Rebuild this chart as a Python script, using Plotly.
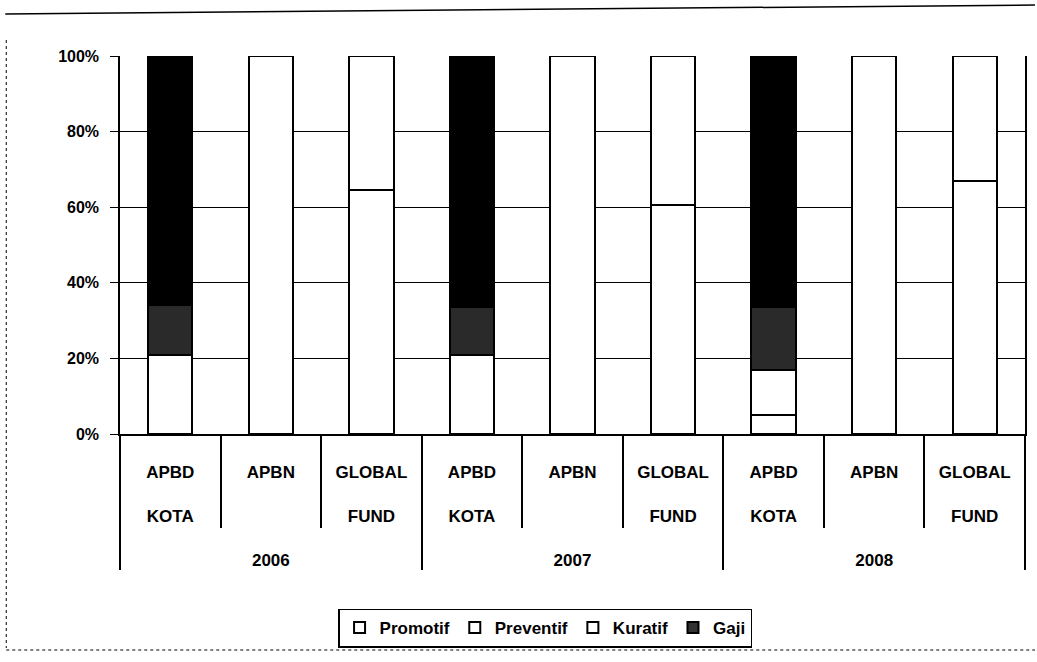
import plotly.graph_objects as go

years = ["2006", "2006", "2006", "2007", "2007", "2007", "2008", "2008", "2008"]
sources = ["APBD<br><br>KOTA", "APBN", "GLOBAL<br><br>FUND"] * 3

promotif = [21, None, 64.5, 21, None, 60.5, 5, None, 67]
preventif = [None, 100, 35.5, None, 100, 39.5, 12, 100, 33]
kuratif = [13, None, None, 12.5, None, None, 16.5, None, None]
gaji = [66, None, None, 66.5, None, None, 66.5, None, None]

y_ticks = [0, 20, 40, 60, 80, 100]
y_tick_text = ["0%", "20%", "40%", "60%", "80%", "100%"]

series = [
    ("Promotif", promotif, "white"),
    ("Preventif", preventif, "white"),
    ("Kuratif", kuratif, "#2a2a2a"),
    ("Gaji", gaji, "black"),
]
legend_fill = {"Promotif": "white", "Preventif": "white", "Kuratif": "white", "Gaji": "#333333"}

FONT = "Liberation Sans, Arial, sans-serif"

# year labels pushed down (two-level category axis)
year_labels = ["<br><br>" + y for y in years]

fig = go.Figure()
for name, vals, col in series:
    fig.add_trace(go.Bar(
        x=[year_labels, sources], y=vals, name=name, showlegend=False,
        marker=dict(color=col, line=dict(color="black", width=2)),
    ))
for name, _, _ in series:
    fig.add_trace(go.Scatter(
        x=[[None], [None]], y=[None], mode="markers", name=name,
        marker=dict(symbol="square", size=11, color=legend_fill[name],
                    line=dict(color="black", width=2)),
    ))

L, R, T, B = 120, 10, 56, 228
W, H = 1037, 662
pw, ph = W - L - R, H - T - B


def px(x):
    return (x - L) / pw


def py(y):
    return (H - B - y) / ph


shapes = [
    dict(type="line", xref="paper", yref="paper", x0=px(5), y0=py(14), x1=px(1037), y1=py(5),
         line=dict(color="black", width=1.5)),
    dict(type="line", xref="paper", yref="paper", x0=px(6), y0=py(40), x1=px(6), y1=py(648),
         line=dict(color="black", width=1, dash="dot")),
    dict(type="line", xref="paper", yref="paper", x0=px(6), y0=py(650), x1=px(1037), y1=py(650),
         line=dict(color="black", width=1, dash="dot")),
]

fig.update_layout(
    width=W, height=H,
    margin=dict(l=L, r=R, t=T, b=B),
    paper_bgcolor="white", plot_bgcolor="white",
    barmode="stack", bargap=0.56,
    font=dict(family=FONT, color="black"),
    shapes=shapes,
    legend=dict(
        orientation="h", traceorder="normal",
        x=px(546), xanchor="center", y=py(628), yanchor="middle",
        font=dict(family=FONT, size=17, weight="bold"),
        bordercolor="black", borderwidth=1.5, bgcolor="white",
        itemwidth=30,
    ),
    xaxis=dict(
        type="multicategory", showgrid=False,
        showline=True, linecolor="black", linewidth=1.5,
        ticks="outside", tickson="boundaries", ticklen=92, tickcolor="black", tickwidth=1.5,
        showdividers=True, dividercolor="black", dividerwidth=1.5,
        ticklabelstandoff=22,
        tickfont=dict(family=FONT, size=17, weight="bold"),
    ),
    yaxis=dict(
        range=[0, 100], tickmode="array", tickvals=y_ticks, ticktext=y_tick_text,
        showgrid=True, gridcolor="black", gridwidth=1,
        showline=True, linecolor="black", linewidth=1.5, mirror=True,
        ticks="outside", ticklen=8, tickcolor="black",
        ticklabelstandoff=8,
        tickfont=dict(family=FONT, size=16, weight="bold"),
        zeroline=False,
    ),
)

fig.write_html("out.html")
